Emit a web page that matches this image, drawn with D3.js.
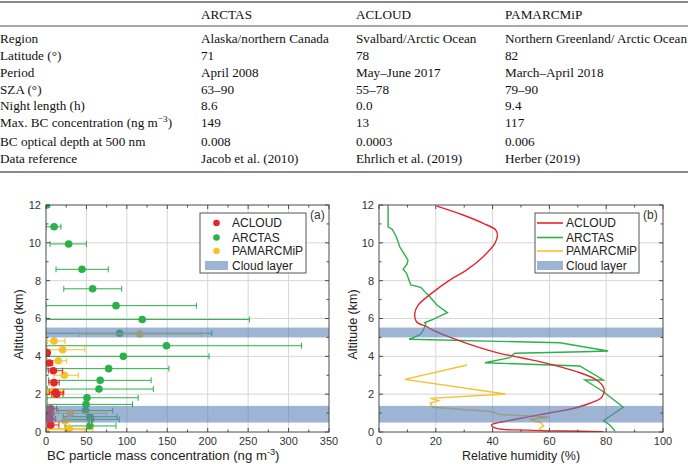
<!DOCTYPE html>
<html><head><meta charset="utf-8">
<script src="https://cdn.jsdelivr.net/npm/d3@7"></script>
<style>body{margin:0;background:#fff}svg{display:block}</style>
</head><body>
<svg id="c" width="688" height="464"></svg>
<script>
// ---------------- table data ----------------
const tableHeaders = ["ARCTAS", "ACLOUD", "PAMARCMiP"];
const tableRowLabels = ["Region", "Latitude (°)", "Period", "SZA (°)", "Night length (h)",
  "Max. BC concentration (ng m^−3^)", "BC optical depth at 500 nm", "Data reference"];
const arctasInfo = ["Alaska/northern Canada", "71", "April 2008", "63–90", "8.6", "149", "0.008", "Jacob et al. (2010)"];
const acloudInfo = ["Svalbard/Arctic Ocean", "78", "May–June 2017", "55–78", "0.0", "13", "0.0003", "Ehrlich et al. (2019)"];
const pamarcmipInfo = ["Northern Greenland/ Arctic Ocean", "82", "March–April 2018", "79–90", "9.4", "117", "0.006", "Herber (2019)"];

// ---------------- panel (a): BC concentration ----------------
// altitude (km), value, lower, upper (ng m-3)
const arctasAlt = [12.0, 10.85, 9.94, 8.6, 7.57, 6.68, 5.95, 5.22, 4.56, 4.0, 3.35, 2.73, 2.27, 1.81, 1.46, 1.13, 0.81, 0.67, 0.32];
const arctasBC  = [1, 10, 28, 44.5, 57.7, 86.6, 119, 91, 149, 95.6, 77.5, 67, 65.5, 50.7, 49.5, 49, 54.4, 55.3, 54.4];
const arctasLo  = [0, 0, 5, 12.4, 22, 0, 0, 0, 0, 0, 1, 3, 1.6, 1.6, 1.6, 15, 21.4, 22, 23.5];
const arctasHi  = [2, 18.5, 50, 77, 93.6, 186, 251.5, 205, 316, 201.6, 152, 130, 132.7, 114, 107, 82.5, 88, 90.6, 86.6];

const acloudAlt = [4.19, 3.65, 3.24, 2.61, 2.1, 2.0, 1.23, 0.95, 0.68, 0.37];
const acloudBC  = [1.6, 4.1, 9.1, 9.9, 12, 13, 5.8, 4, 5, 5.8];
const acloudLo  = [0, 1.6, 2.9, 3.7, 4, 7, 1.6, 0, 0, 1.6];
const acloudHi  = [4, 8.3, 20.6, 16.4, 22, 21, 13, 10, 12, 16];

const pamAlt = [5.18, 4.81, 4.35, 3.77, 3.0, 2.15, 2.05, 0.99, 0.58, 0.19, 0.12];
const pamBC  = [116, 9.9, 20.6, 15.2, 22.7, 8, 10, 30, 23.5, 28.8, 27];
const pamLo  = [41, 1.6, 1.6, 1.6, 9.9, 1, 2, 5, 10, 1.6, 3];
const pamHi  = [192, 23.5, 48, 25.6, 40, 21, 18, 75, 55, 48, 58];

// ---------------- panel (b): relative humidity ----------------
const acloudRHAlt = [11.94, 11.47, 11.03, 10.68, 10.41, 9.97, 9.27, 8.56, 8.03, 7.33, 6.71, 6.27, 5.83, 5.57, 5.3, 4.95, 4.51, 4.16, 3.9, 3.59, 3.19, 2.75, 2.31, 1.83, 1.52, 1.2, 1.02, 0.81, 0.58, 0.37, 0.19, 0.1, 0.05, 0.02];
const acloudRH    = [20.4, 29.6, 36.7, 41.1, 41.7, 40.8, 36.7, 30.8, 24.9, 18.5, 13.8, 12.6, 13.2, 16.7, 20.2, 26.1, 34.3, 42.5, 50.8, 60.2, 69.6, 76.6, 79.2, 78.4, 74.3, 67.2, 60.2, 53.1, 44.9, 39.6, 41.4, 52, 64.9, 79];

const arctasRHAlt = [12.0, 10.85, 10.71, 10.32, 9.79, 9.35, 9.09, 8.88, 8.6, 8.39, 7.77, 7.65, 7.42, 7.15, 6.71, 6.31, 6.13, 5.92, 5.78, 5.71, 5.3, 5.13, 4.9, 4.72, 4.28, 4.24, 4.16, 3.93, 3.66, 3.49, 2.75, 2.75, 2.13, 1.31, 0.6, 0.37, 0.05];
const arctasRH    = [3.2, 3.2, 4.7, 6.1, 7.3, 9.1, 10.2, 9.9, 8.5, 9.7, 11.2, 14.7, 16.1, 17.9, 20.4, 24.1, 21.4, 18.5, 16.1, 16.5, 15.3, 14.3, 10.6, 63.7, 80.7, 71.9, 47.8, 46.1, 37.3, 70.7, 79, 72.5, 79, 86, 79, 81.3, 83.1];

const pamRHAlt = [3.54, 2.78, 2.01, 1.78, 1.66, 1.52, 1.31, 1.07, 0.93, 0.78, 0.67, 0.5, 0.32, 0.19, 0.1, 0.0];
const pamRH    = [31, 9.1, 44.5, 18, 21, 18, 19, 40.2, 42.3, 60.2, 53, 57, 58, 56.6, 57, 60];

const cloudLayers = [[0.5, 1.38], [5.0, 5.52]];

const xTicksA = [0, 50, 100, 150, 200, 250, 300, 350];
const xTicksB = [0, 20, 40, 60, 80, 100];
const yTicks = [0, 2, 4, 6, 8, 10, 12];

// ---------------- drawing ----------------
const svg = d3.select("#c");
const serif = "'Liberation Serif','Times New Roman',serif";
const sans = "'Liberation Sans',Arial,sans-serif";
const COL = {red: "#e3262b", green: "#2bb04a", yellow: "#f5c22e", band: "#5b82b8"};

// table
const tg = svg.append("g").attr("font-family", serif).attr("font-size", 13.2).attr("fill", "#111");
const colX = [0, 201, 356, 505];
const rowY = [38, 55, 72, 89, 105.5, 122.5, 141, 158];
[[2, 2.2], [26, 1.4], [172, 2.2]].forEach(([y, w]) =>
  tg.append("line").attr("x1", 0).attr("x2", 688).attr("y1", y).attr("y2", y).attr("stroke", "#8a8a8a").attr("stroke-width", w));
tableHeaders.forEach((h, i) => tg.append("text").attr("x", colX[i + 1]).attr("y", 14).attr("dy", "0.35em").text(h));
function supText(sel, s) {
  const parts = s.split("^");
  parts.forEach((p, i) => {
    const t = sel.append("tspan").text(p);
    if (i % 2 === 1) t.attr("baseline-shift", "super").attr("font-size", "70%");
  });
}
const cols = [tableRowLabels, arctasInfo, acloudInfo, pamarcmipInfo];
cols.forEach((col, ci) => col.forEach((s, ri) => {
  const t = tg.append("text").attr("x", colX[ci]).attr("y", rowY[ri]).attr("dy", "0.35em");
  supText(t, s);
}));

function panel(opts) {
  const {x, y, xTicks, xMinorStep, id} = opts;
  const g = svg.append("g");
  const [x0, x1] = x.range(), [y0, y1] = y.range();
  // grid
  xTicks.slice(1, -1).forEach(v => g.append("line").attr("x1", x(v)).attr("x2", x(v)).attr("y1", y0).attr("y2", y1).attr("stroke", "#d6d6d6"));
  yTicks.slice(1, -1).forEach(v => g.append("line").attr("x1", x0).attr("x2", x1).attr("y1", y(v)).attr("y2", y(v)).attr("stroke", "#d6d6d6"));
  svg.append("clipPath").attr("id", id).append("rect").attr("x", x0).attr("y", y1).attr("width", x1 - x0).attr("height", y0 - y1);
  const dg = g.append("g").attr("clip-path", `url(#${id})`);
  opts.drawData(dg);
  // cloud bands on top
  cloudLayers.forEach(([a, b]) => dg.append("rect").attr("x", x0).attr("width", x1 - x0)
    .attr("y", y(b)).attr("height", y(a) - y(b)).attr("fill", COL.band).attr("fill-opacity", 0.6));
  // frame
  g.append("rect").attr("x", x0).attr("y", y1).attr("width", x1 - x0).attr("height", y0 - y1)
    .attr("fill", "none").attr("stroke", "#4a4a4a").attr("stroke-width", 1);
  // ticks (inward, all sides)
  const xMax = xTicks[xTicks.length - 1];
  d3.range(0, xMax + 0.001, xMinorStep).forEach(v => {
    const major = xTicks.includes(v), L = major ? 4 : 2.5;
    g.append("line").attr("x1", x(v)).attr("x2", x(v)).attr("y1", y0).attr("y2", y0 - L).attr("stroke", "#4a4a4a");
    g.append("line").attr("x1", x(v)).attr("x2", x(v)).attr("y1", y1).attr("y2", y1 + L).attr("stroke", "#4a4a4a");
  });
  d3.range(0, 12.001, 1).forEach(v => {
    const major = yTicks.includes(v), L = major ? 4 : 2.5;
    g.append("line").attr("x1", x0).attr("x2", x0 + L).attr("y1", y(v)).attr("y2", y(v)).attr("stroke", "#4a4a4a");
    g.append("line").attr("x1", x1).attr("x2", x1 - L).attr("y1", y(v)).attr("y2", y(v)).attr("stroke", "#4a4a4a");
  });
  const lg = g.append("g").attr("font-family", sans).attr("font-size", 11).attr("fill", "#333");
  xTicks.forEach(v => lg.append("text").attr("x", x(v)).attr("y", y0 + 13).attr("text-anchor", "middle").text(v));
  yTicks.forEach(v => lg.append("text").attr("x", x0 - 5).attr("y", y(v)).attr("dy", "0.35em").attr("text-anchor", "end").text(v));
  // axis titles
  g.append("text").attr("transform", `translate(${opts.yTitleX},${(y0 + y1) / 2 + 6}) rotate(-90)`)
    .attr("text-anchor", "middle").attr("font-family", sans).attr("font-size", 12.5).attr("fill", "#222").text("Altitude (km)");
  const xt = g.append("text").attr("x", opts.xTitleX).attr("y", 460).attr("text-anchor", opts.xTitleAnchor)
    .attr("font-family", sans).attr("font-size", opts.xTitleSize).attr("fill", "#222");
  supText(xt, opts.xTitle);
  g.append("text").attr("x", opts.tagX).attr("y", 219).attr("font-family", sans).attr("font-size", 12).attr("fill", "#333").text(opts.tag);
  // legend
  const L = opts.legend;
  const lgd = g.append("g").attr("font-family", sans).attr("font-size", 12).attr("fill", "#222");
  lgd.append("rect").attr("x", L.x).attr("y", 213).attr("width", L.w).attr("height", 60).attr("fill", "#fff").attr("stroke", "#555");
  const names = ["ACLOUD", "ARCTAS", "PAMARCMiP", "Cloud layer"];
  const cols2 = [COL.red, COL.green, COL.yellow];
  const ly = [223, 237.5, 251, 265.5];
  names.forEach((n, i) => {
    if (i === 3) {
      lgd.append("rect").attr("x", L.sx).attr("y", ly[i] - 4.5).attr("width", L.sw).attr("height", 9).attr("fill", COL.band).attr("fill-opacity", 0.6);
    } else if (L.kind === "dot") {
      lgd.append("circle").attr("cx", L.sx + L.sw / 2).attr("cy", ly[i]).attr("r", 3.3).attr("fill", cols2[i]);
    } else {
      lgd.append("line").attr("x1", L.sx).attr("x2", L.sx + L.sw).attr("y1", ly[i]).attr("y2", ly[i]).attr("stroke", cols2[i]).attr("stroke-width", 1.6);
    }
    lgd.append("text").attr("x", L.tx).attr("y", ly[i]).attr("dy", "0.35em").text(n);
  });
}

const xA = d3.scaleLinear([0, 350], [46, 329]);
const yA = d3.scaleLinear([0, 12], [432, 205]);
const xB = d3.scaleLinear([0, 100], [379, 663]);
const yB = d3.scaleLinear([0, 12], [432, 205]);

function errSeries(g, alt, val, lo, hi, color) {
  alt.forEach((a, i) => {
    const yy = yA(a);
    g.append("line").attr("x1", xA(lo[i])).attr("x2", xA(hi[i])).attr("y1", yy).attr("y2", yy).attr("stroke", color).attr("stroke-width", 1);
    [lo[i], hi[i]].forEach(v => g.append("line").attr("x1", xA(v)).attr("x2", xA(v)).attr("y1", yy - 3).attr("y2", yy + 3).attr("stroke", color).attr("stroke-width", 1));
  });
  alt.forEach((a, i) => g.append("circle").attr("cx", xA(val[i])).attr("cy", yA(a)).attr("r", 3.8).attr("fill", color));
}

panel({
  id: "clipA", x: xA, y: yA, xTicks: xTicksA, xMinorStep: 25, yTitleX: 23,
  xTitle: "BC particle mass concentration (ng m^-3^)", xTitleX: 47, xTitleAnchor: "start", xTitleSize: 13.2,
  tag: "(a)", tagX: 310,
  legend: {x: 200, w: 106, kind: "dot", sx: 205, sw: 23, tx: 232},
  drawData: g => {
    errSeries(g, arctasAlt, arctasBC, arctasLo, arctasHi, COL.green);
    errSeries(g, pamAlt, pamBC, pamLo, pamHi, COL.yellow);
    errSeries(g, acloudAlt, acloudBC, acloudLo, acloudHi, COL.red);
  }
});

panel({
  id: "clipB", x: xB, y: yB, xTicks: xTicksB, xMinorStep: 10, yTitleX: 357,
  xTitle: "Relative humidity (%)", xTitleX: 521, xTitleAnchor: "middle", xTitleSize: 12.5,
  tag: "(b)", tagX: 643,
  legend: {x: 535, w: 104, kind: "line", sx: 537, sw: 26, tx: 566},
  drawData: g => {
    const mk = (alt, rh) => alt.map((a, i) => [rh[i], a]);
    const line = d3.line().x(d => xB(d[0])).y(d => yB(d[1]));
    g.append("path").attr("d", line(mk(pamRHAlt, pamRH))).attr("fill", "none").attr("stroke", COL.yellow).attr("stroke-width", 1.4);
    g.append("path").attr("d", line(mk(arctasRHAlt, arctasRH))).attr("fill", "none").attr("stroke", COL.green).attr("stroke-width", 1.4);
    g.append("path").attr("d", line.curve(d3.curveCatmullRom)(mk(acloudRHAlt, acloudRH))).attr("fill", "none").attr("stroke", COL.red).attr("stroke-width", 1.4);
  }
});
</script>
</body></html>
